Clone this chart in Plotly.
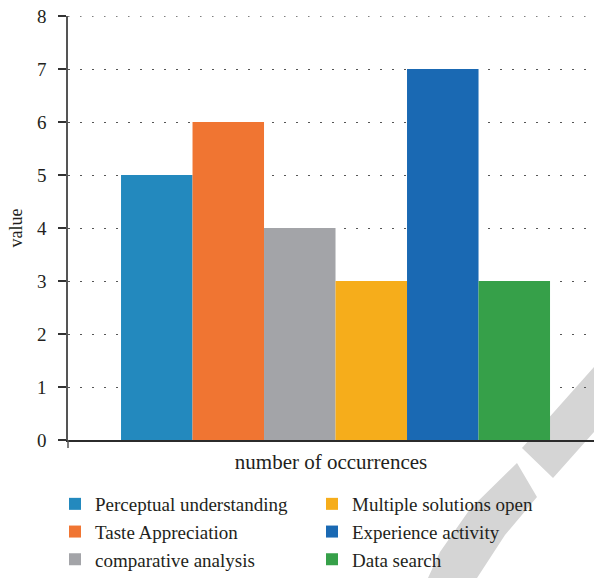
import plotly.graph_objects as go

# Occurrence counts per teaching approach
categories = [
    "Perceptual understanding",
    "Taste Appreciation",
    "comparative analysis",
    "Multiple solutions open",
    "Experience activity",
    "Data search",
]
values = [5, 6, 4, 3, 7, 3]
colors = ["#2389BE", "#F07532", "#A3A4A8", "#F6AD1B", "#1A69B3", "#36A049"]
group_label = "number of occurrences"
y_ticks = [0, 1, 2, 3, 4, 5, 6, 7, 8]
y_max = 8

FONT = "Liberation Serif, DejaVu Serif, serif"
TEXT = "#231F20"
GRID = "#555555"
GRID_DASH = "1.5px,10.5px"

fig = go.Figure()
for i, (name, val, col) in enumerate(zip(categories, values, colors)):
    fig.add_trace(go.Bar(
        x=[group_label],
        y=[val],
        name=name,
        marker=dict(color=col, line=dict(width=0)),
        legend="legend" if i < 3 else "legend2",
    ))

W, H = 594, 578
ml, mr, mt, mb = 68, 0, 16, 138
pw = W - ml - mr
ph = H - mt - mb

# soft grey arc band in the lower-right corner (drawn behind the bars)
def px_path(points):
    pts = [((x - ml) / pw, (H - mb - y) / ph) for x, y in points]
    return "M " + " L ".join(f"{a:.4f},{b:.4f}" for a, b in pts) + " Z"

band_upper = [(594, 367), (600, 360), (600, 428), (594, 432), (553, 478), (522, 448)]
band_lower = [(517, 463), (537, 497), (505, 535), (477, 578), (428, 578),
              (440, 552), (470, 509)]
shapes = []
for pts in (band_upper, band_lower):
    shapes.append(dict(type="path", path=px_path(pts), xref="paper", yref="paper",
                       fillcolor="#D5D5D5", line=dict(width=0), layer="below"))

# dotted grid line along the top of the value range
shapes.append(dict(type="line", xref="paper", yref="y", x0=0, x1=1,
                   y0=y_max, y1=y_max, layer="below",
                   line=dict(color=GRID, width=1.3, dash=GRID_DASH)))

# y-axis line continues a little below the x-axis
shapes.append(dict(type="line", xref="paper", yref="paper", x0=0, x1=0,
                   y0=0, y1=-8 / ph, line=dict(color="#555555", width=1.5)))

legend_style = dict(
    y=(H - mb - 485) / ph, xanchor="left", yanchor="top",
    orientation="v", bgcolor="rgba(0,0,0,0)",
    font=dict(size=19, family=FONT, color=TEXT),
)

fig.update_layout(
    width=W, height=H,
    margin=dict(l=ml, r=mr, t=mt, b=mb, autoexpand=False),
    paper_bgcolor="white", plot_bgcolor="white",
    font=dict(family=FONT, color=TEXT, size=18),
    barmode="group",
    bargap=0.1844,
    bargroupgap=0,
    shapes=shapes,
    xaxis=dict(
        range=[-0.5086, 0.4914],
        showticklabels=False, ticks="",
        showgrid=False, zeroline=False,
        showline=True, linecolor="#2B2B2B", linewidth=1.5,
        title=dict(text=group_label, standoff=14, font=dict(size=21, family=FONT, color=TEXT)),
    ),
    yaxis=dict(
        range=[0, y_max], tickvals=y_ticks,
        ticks="outside", ticklen=8, tickwidth=1.5, tickcolor="#333333",
        ticklabelstandoff=8,
        tickfont=dict(size=19, family=FONT, color=TEXT),
        showline=True, linecolor="#555555", linewidth=1.5,
        showgrid=True, gridcolor=GRID, gridwidth=1.3, griddash=GRID_DASH,
        zeroline=False,
        title=dict(text="value", standoff=10, font=dict(size=18, family=FONT, color=TEXT)),
    ),
    legend=dict(x=(55 - ml) / pw, **legend_style),
    legend2=dict(x=(312 - ml) / pw, **legend_style),
)

fig.write_html("out.html")
